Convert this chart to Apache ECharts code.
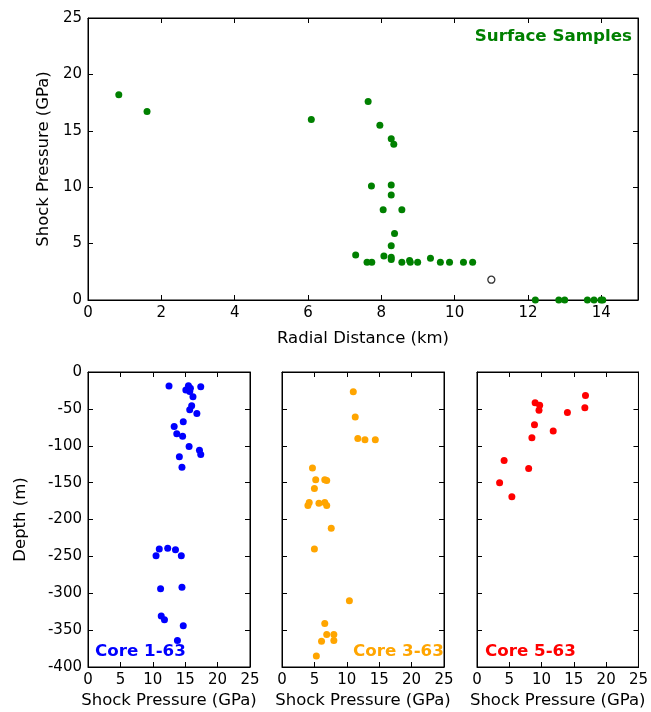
<!DOCTYPE html>
<html><head><meta charset="utf-8">
<script src="https://cdn.jsdelivr.net/npm/echarts@6/dist/echarts.min.js"></script>
<style>html,body{margin:0;padding:0;background:#fff}#c{width:651px;height:712px}</style>
</head><body><div id="c"></div>
<script>
// Surface samples
const surfaceDistance = [0.84,1.61,6.09,7.64,7.96,8.27,8.34,7.73,8.27,8.27,8.05,8.56,8.36,8.27,7.30,8.07,8.27,8.27,7.61,7.74,8.56,8.77,8.79,8.99,9.34,9.61,9.86,10.24,10.49,12.2,12.84,13.0,13.62,13.8,13.99,14.04];
const surfacePressure = [18.2,16.7,16.0,17.6,15.5,14.3,13.8,10.1,10.2,9.3,8.0,8.0,5.9,4.8,4.0,3.9,3.8,3.6,3.35,3.35,3.35,3.5,3.35,3.35,3.7,3.35,3.35,3.35,3.35,0,0,0,0,0,0,0];
const openDistance = [11.0];
const openPressure = [1.8];
// Cores
const core1Pressure = [12.5,15.5,15.1,15.7,15.8,17.4,16.2,16.0,15.7,16.8,14.7,13.3,13.7,14.6,15.6,17.2,17.4,14.1,14.5,11.0,10.5,12.3,13.5,14.4,11.2,14.5,11.3,11.8,14.7,13.8];
const core1Depth = [-19,-18.7,-24.5,-26.3,-22.2,-20,-33.6,-45.8,-51.2,-56.2,-67.5,-73.9,-83.8,-87,-101,-106,-112,-115,-129,-240,-249,-239,-241,-249,-294,-292,-331,-336,-344,-364];
const core3Pressure = [11.0,11.3,11.7,12.8,14.4,4.7,5.2,6.6,6.9,5.0,4.2,4.0,5.7,6.6,6.9,7.6,5.0,10.4,6.6,6.9,8.0,6.1,8.0,5.3];
const core3Depth = [-26.8,-61,-90,-92,-92,-130,-146,-146,-147,-158,-177,-181,-178,-177,-181,-212,-240,-310,-341,-356,-356,-365,-364,-385];
const core5Pressure = [16.8,16.7,9.0,9.7,9.6,14.0,8.9,11.8,8.5,4.2,8.0,3.5,5.4];
const core5Depth = [-32,-48.5,-41.7,-45,-52,-55,-71.6,-80,-89,-120,-131,-150,-169];

const zip = (a,b) => a.map((v,i)=>[v,b[i]]);
const FONT = 'DejaVu Sans';
const TICK_FS = 15, NAME_FS = 16.5;

const grids = [
  {left:88, top:18, width:550, height:282},
  {left:88, top:372, width:162, height:295},
  {left:282, top:372, width:162, height:295},
  {left:477, top:372, width:162, height:295}
];
const baseTick = {show:true, inside:true, length:5, lineStyle:{color:'#000'}};
const baseLine = {show:true, onZero:false, lineStyle:{color:'#000', width:1}};
const xAxes = [], yAxes = [];
grids.forEach((g,i)=>{
  const top = i===0;
  const xs = top ? {min:0,max:15,interval:2} : {min:0,max:25,interval:5};
  const ys = top ? {min:0,max:25,interval:5} : {min:-400,max:0,interval:50};
  xAxes.push(Object.assign({type:'value', gridIndex:i, position:'bottom', splitLine:{show:false},
    axisLine:baseLine, axisTick:baseTick,
    axisLabel:{show:true, color:'#000', fontFamily:FONT, fontSize:TICK_FS, margin: 6, showMaxLabel: !top,
      formatter: v => (top && v===15) ? '' : String(v)},
    name: top ? 'Radial Distance (km)' : 'Shock Pressure (GPa)', nameLocation:'middle',
    nameGap: top ? 30 : 25, nameTextStyle:{color:'#000', fontFamily:FONT, fontSize:NAME_FS}}, xs));
  xAxes.push(Object.assign({type:'value', gridIndex:i, position:'top', splitLine:{show:false},
    axisLine:baseLine, axisTick:baseTick, axisLabel:{show:false}}, xs));
  yAxes.push(Object.assign({type:'value', gridIndex:i, position:'left', splitLine:{show:false},
    axisLine:baseLine, axisTick:baseTick,
    axisLabel:{show: i<=1, color:'#000', fontFamily:FONT, fontSize:TICK_FS, margin:6, formatter: v=>String(v)},
    name: i===0 ? 'Shock Pressure (GPa)' : (i===1 ? 'Depth (m)' : ''), nameLocation:'middle',
    nameGap: i===0 ? 34 : 59, nameTextStyle:{color:'#000', fontFamily:FONT, fontSize:NAME_FS}}, ys));
  yAxes.push(Object.assign({type:'value', gridIndex:i, position:'right', splitLine:{show:false},
    axisLine:baseLine, axisTick:baseTick, axisLabel:{show:false}}, ys));
});

const sc = (xi, yi, data, color, extra) => Object.assign({type:'scatter', xAxisIndex:xi, yAxisIndex:yi,
  data, symbolSize:7, clip:false, itemStyle:{color, opacity:1}, emphasis:{disabled:true}}, extra||{});

const LBL = 'bold 16.7px "DejaVu Sans"';
const option = {
  animation:false,
  backgroundColor:'#fff',
  grid: grids.map(g=>Object.assign({show:true, borderColor:'#000', borderWidth:1, backgroundColor:'transparent'}, g)),
  xAxis: xAxes, yAxis: yAxes,
  series: [
    sc(0,0, zip(surfaceDistance, surfacePressure), '#008000'),
    sc(0,0, zip(openDistance, openPressure), '#fff', {itemStyle:{color:'#fff', borderColor:'#000', borderWidth:1.3}}),
    sc(2,2, zip(core1Pressure, core1Depth), '#0000ff'),
    sc(4,4, zip(core3Pressure, core3Depth), '#ffa500'),
    sc(6,6, zip(core5Pressure, core5Depth), '#ff0000')
  ],
  graphic: [
    {type:'text', x:632, y:37, style:{text:'Surface Samples', fill:'#008000', font:LBL, align:'right', verticalAlign:'middle'}},
    {type:'text', x:95, y:651.5, style:{text:'Core 1-63', fill:'#0000ff', font:LBL, align:'left', verticalAlign:'middle'}},
    {type:'text', x:353, y:651.5, style:{text:'Core 3-63', fill:'#ffa500', font:LBL, align:'left', verticalAlign:'middle'}},
    {type:'text', x:485, y:651.5, style:{text:'Core 5-63', fill:'#ff0000', font:LBL, align:'left', verticalAlign:'middle'}}
  ]
};
echarts.init(document.getElementById('c'), null, {renderer:'canvas'}).setOption(option);
</script></body></html>
